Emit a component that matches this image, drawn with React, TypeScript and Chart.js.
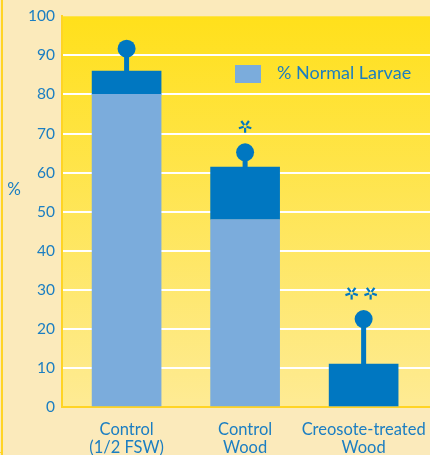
import React, { useEffect, useRef } from "react";
import { Chart, registerables } from "chart.js";

Chart.register(...registerables);

const categories: string[][] = [
  ["Control", "(1/2 FSW)"],
  ["Control", "Wood"],
  ["Creosote-treated", "Wood"],
];
const normalLarvae = [80, 48, 0];
const upperSegment = [6, 13.4, 11];
const errorTops = [91.7, 65.2, 22.5];
const significance = ["", "*", "**"];
const legendLabel = "% Normal Larvae";
const yTitle = "%";

const TEXT_BLUE = "#1B7EC2";
const LIGHT_BLUE = "#7BACDC";
const DARK_BLUE = "#0077C1";
const CREAM = "#FBEABB";
const AXIS_YELLOW = "#FFD424";
const FONT = "Lato, 'Open Sans', sans-serif";

function drawAsterisk(ctx: CanvasRenderingContext2D, cx: number, cy: number, r: number) {
  ctx.save();
  ctx.strokeStyle = DARK_BLUE;
  ctx.lineWidth = 2.2;
  ctx.lineCap = "butt";
  for (let k = 0; k < 5; k++) {
    const a = (Math.PI / 180) * (36 + 72 * k - 90);
    ctx.beginPath();
    ctx.moveTo(cx + Math.cos(a) * 1.5, cy + Math.sin(a) * 1.5);
    ctx.lineTo(cx + Math.cos(a) * r, cy + Math.sin(a) * r);
    ctx.stroke();
  }
  ctx.restore();
}

const decorPlugin = {
  id: "decor",
  beforeDraw(chart: any) {
    const { ctx, chartArea, width, height } = chart;
    ctx.save();
    ctx.fillStyle = CREAM;
    ctx.fillRect(0, 0, width, height);
    const g = ctx.createLinearGradient(0, chartArea.top, 0, chartArea.bottom);
    g.addColorStop(0, "#FFE01B");
    g.addColorStop(1, "#FEEB94");
    ctx.fillStyle = g;
    ctx.fillRect(chartArea.left, chartArea.top, chartArea.right - chartArea.left, chartArea.bottom - chartArea.top);
    // left page rule
    ctx.fillStyle = AXIS_YELLOW;
    ctx.fillRect(1, 0, 2, height);
    ctx.fillRect(0, height - 3, 3, 1);
    // y title
    ctx.fillStyle = TEXT_BLUE;
    ctx.font = `17px ${FONT}`;
    ctx.textAlign = "center";
    ctx.textBaseline = "middle";
    ctx.fillText(yTitle, 14, 190);
    ctx.restore();
  },
  afterDatasetsDraw(chart: any) {
    const { ctx, scales } = chart;
    const xs = scales.x;
    const ys = scales.y;
    ctx.save();
    for (let i = 0; i < categories.length; i++) {
      const x = xs.getPixelForValue(i);
      const top = ys.getPixelForValue(normalLarvae[i] + upperSegment[i]);
      const yc = ys.getPixelForValue(errorTops[i]);
      ctx.fillStyle = DARK_BLUE;
      ctx.fillRect(x - 2.5, yc, 5, top - yc);
      ctx.beginPath();
      ctx.arc(x, yc, 9, 0, Math.PI * 2);
      ctx.fill();
      const n = significance[i].length;
      for (let k = 0; k < n; k++) {
        const ax = x - 2.5 + (k - (n - 1) / 2) * 19;
        drawAsterisk(ctx, n === 1 ? x : ax, yc - 26, 6.5);
      }
    }
    // legend
    ctx.fillStyle = LIGHT_BLUE;
    ctx.fillRect(235, 65, 26, 18);
    ctx.fillStyle = TEXT_BLUE;
    ctx.font = `18px ${FONT}`;
    ctx.textAlign = "left";
    ctx.textBaseline = "middle";
    ctx.fillText(legendLabel, 277, 73);
    ctx.restore();
  },
};

export default function App() {
  const ref = useRef<HTMLCanvasElement | null>(null);
  useEffect(() => {
    document.body.style.margin = "0";
    const canvas = ref.current!;
    const chart = new Chart(canvas, {
      type: "bar",
      data: {
        datasets: [
          {
            label: legendLabel,
            data: normalLarvae.map((v, i) => ({ x: i, y: v })),
            backgroundColor: LIGHT_BLUE,
            barThickness: 69,
            borderWidth: 0,
          },
          {
            label: "upper",
            data: upperSegment.map((v, i) => ({ x: i, y: v })),
            backgroundColor: DARK_BLUE,
            barThickness: 69,
            borderWidth: 0,
          },
        ],
      },
      options: {
        animation: false,
        responsive: false,
        devicePixelRatio: 1,
        layout: { padding: { top: 14, left: 0, right: 0, bottom: 0 } },
        plugins: { legend: { display: false }, tooltip: { enabled: false } },
        scales: {
          x: {
            type: "linear",
            stacked: true,
            offset: false,
            min: -0.545,
            max: 2.56,
            grid: { display: false, drawTicks: false, offset: false },
            border: { display: true, color: AXIS_YELLOW, width: 2 },
            afterBuildTicks: (s: any) => {
              s.ticks = categories.map((_, i) => ({ value: i }));
            },
            afterFit: (s: any) => {
              s.height = 48;
              s.paddingLeft = 0;
              s.paddingRight = 0;
            },
            ticks: {
              autoSkip: false,
              maxRotation: 0,
              padding: 14,
              color: TEXT_BLUE,
              font: { family: FONT, size: 16.5, lineHeight: 1.08 },
              callback: (v: any) => categories[v] ?? "",
            },
          },
          y: {
            stacked: true,
            min: 0,
            max: 100,
            ticks: {
              stepSize: 10,
              padding: 7,
              color: TEXT_BLUE,
              font: { family: FONT, size: 15.5 },
            },
            grid: {
              drawTicks: false,
              lineWidth: 2,
              color: (c: any) =>
                c.tick && (c.tick.value === 0 || c.tick.value === 100) ? "rgba(0,0,0,0)" : "#ffffff",
            },
            border: { display: true, color: AXIS_YELLOW, width: 2 },
            afterFit: (s: any) => {
              s.width = 62;
            },
          },
        },
      },
      plugins: [decorPlugin],
    } as any);
    return () => chart.destroy();
  }, []);
  return (
    <div style={{ width: 430, height: 455, overflow: "hidden" }}>
      <canvas ref={ref} width={430} height={455} style={{ display: "block" }} />
    </div>
  );
}
